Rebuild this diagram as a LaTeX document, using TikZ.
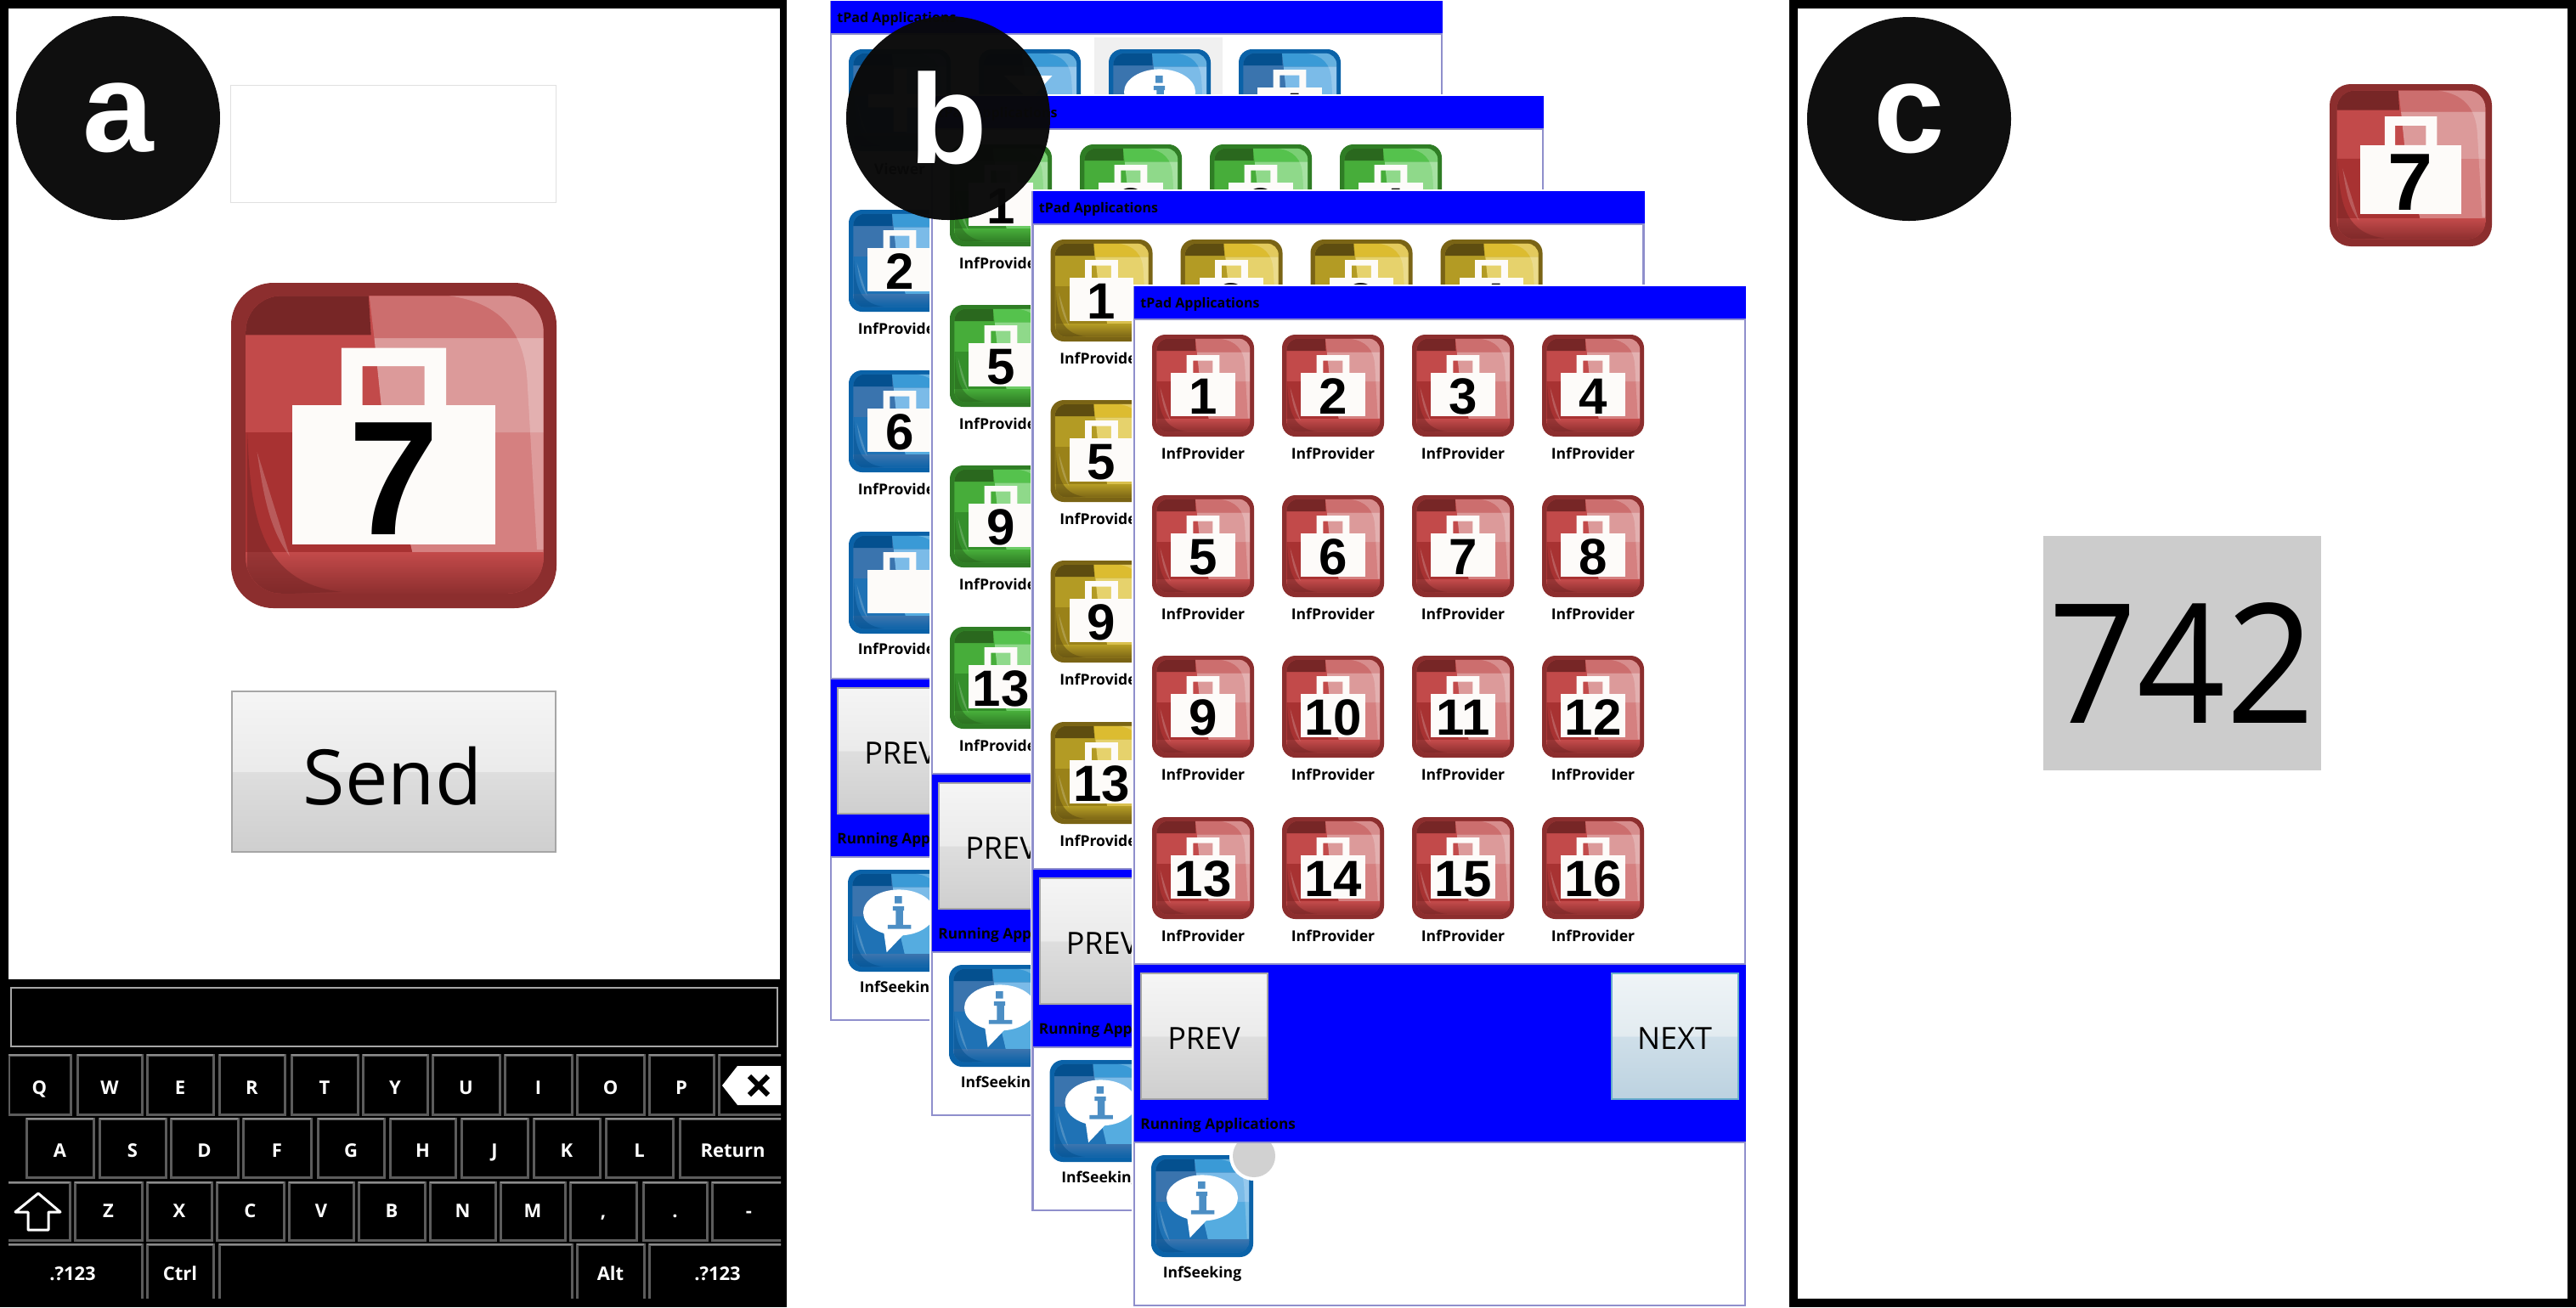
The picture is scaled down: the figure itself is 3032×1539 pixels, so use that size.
\documentclass[tikz,border=0pt]{standalone}
\usepackage{fontspec}
\setmainfont{Open Sans}
\newfontfamily\numfont{Liberation Sans}
\usetikzlibrary{positioning}
\definecolor{redB}{HTML}{8C2E2E}\definecolor{redD}{HTML}{772626}\definecolor{redM}{HTML}{C24A4A}\definecolor{redN}{HTML}{A83232}
\definecolor{redT}{HTML}{CC6E6E}\definecolor{redL}{HTML}{DC9A9A}\definecolor{redR}{HTML}{D58080}
\definecolor{bluB}{HTML}{0A62A8}\definecolor{bluD}{HTML}{04508F}\definecolor{bluM}{HTML}{3A74AE}\definecolor{bluN}{HTML}{1F72B5}
\definecolor{bluT}{HTML}{3A9AD6}\definecolor{bluL}{HTML}{7BBBE8}\definecolor{bluR}{HTML}{55ACE0}
\definecolor{grnB}{HTML}{2F7D25}\definecolor{grnD}{HTML}{2A681E}\definecolor{grnM}{HTML}{47AD3A}\definecolor{grnN}{HTML}{348F2B}
\definecolor{grnT}{HTML}{55C24D}\definecolor{grnL}{HTML}{8FD98A}\definecolor{grnR}{HTML}{6CCB65}
\definecolor{ylwB}{HTML}{7A6415}\definecolor{ylwD}{HTML}{5E4D10}\definecolor{ylwM}{HTML}{B39B24}\definecolor{ylwN}{HTML}{9A8219}
\definecolor{ylwT}{HTML}{DCBC30}\definecolor{ylwL}{HTML}{E6D26C}\definecolor{ylwR}{HTML}{D9C04E}
\definecolor{winblue}{RGB}{0,0,255}
\definecolor{winline}{HTML}{8F8FCC}
\definecolor{bagwhite}{HTML}{FDFBF9}
\definecolor{keyline}{HTML}{5C5C5C}
\definecolor{badgeblack}{HTML}{0A0A0A}
\pgfdeclareverticalshading{btnshade}{100bp}{color(0bp)=(black!19); color(25bp)=(black!19); color(50bp)=(black!13); color(50.01bp)=(black!8); color(75bp)=(black!4); color(100bp)=(black!4)}
\definecolor{nextlow}{HTML}{BCD2E0}\definecolor{nextmid}{HTML}{CFDFE9}\definecolor{nexttop}{HTML}{EFF4F7}\definecolor{nextup}{HTML}{E2EBF0}
\pgfdeclareverticalshading{nextshade}{100bp}{color(0bp)=(nextlow); color(25bp)=(nextlow); color(50bp)=(nextmid); color(50.01bp)=(nextup); color(75bp)=(nexttop); color(100bp)=(nexttop)}
\newcommand{\appicon}[5]{%
  \begin{scope}[shift={(#1,#2)},scale=#3/100,transform shape]
    \fill[#4B,rounded corners=#3*.065pt] (0,0) rectangle (100,100);
    \begin{scope}
      \clip[rounded corners=#3*.055pt] (4.5,4) rectangle (96,95.5);
      \fill[#4M] (0,0) rectangle (100,100);
      \fill[#4N] (0,46) -- (47,46) -- (56,84) -- (0,84) -- cycle;
      \fill[#4R] (47,46) -- (100,46) -- (100,84) -- (56,84) -- cycle;
      \fill[#4L] (44,17) -- (100,17) -- (100,46) -- (47,46) -- cycle;
      \fill[#4T] (42,0) -- (100,0) -- (100,17) -- (44,17) -- cycle;
      \fill[#4D] (0,0) -- (42,0) -- (43,16) -- (0,16) -- cycle;
      \shade[top color=#4M,bottom color=#4B] (0,83) rectangle (100,96);
      \fill[white,fill opacity=.22] (67,4) .. controls (82,6) and (90,14) .. (91,30) -- (94,82) -- (97,82) -- (97,4) -- cycle;
      \fill[white,fill opacity=.2] (8,52) -- (18,84) .. controls (12,76) and (10,66) .. (8,52) -- cycle;
      \fill[#4D,fill opacity=.55] (5,46) .. controls (6,70) and (8,92) .. (34,95) -- (5,96) -- cycle;
    \end{scope}
    #5
  \end{scope}}
\newcommand{\bagmark}[1]{%
  \fill[bagwhite] (18.7,37.6) rectangle (81.3,80.3);
  \fill[bagwhite,even odd rule] (33.9,20) rectangle (66.1,38) (40.4,25.6) rectangle (59.4,37.6);
  \node[numtext] (num#1) at (50,77.5) {#1};}
\newcommand{\bubblemark}{%
  \fill[white] (50,42) ellipse [x radius=35,y radius=22.5];
  \fill[white] (35,60) -- (38,81) -- (58,60) -- cycle;
  \fill[bluN!80!white] (46,26) rectangle (53,33) (44,36) rectangle (55,40) (47,36) rectangle (54,56) (39,54) rectangle (62,58);}
\newcommand{\appframe}{%
  \fill[white] (-3,-3) rectangle (722,1202);
  \draw[winedge] (0,0) rectangle (719,1199);
  \fill[winblue] (0,-1) rectangle (720,37);
  \fill[winblue] (0,798) rectangle (720,1006);
  \draw[winedge] (0,38) -- (719,38) (0,797) -- (719,797) (0,1007) -- (719,1007);
  \node[bandtext] (ttl) at (7,20) {tPad Applications};
  \node[bandtext,font=\fontsize{8.6}{10}\selectfont\bfseries] (run) at (7,987) {Running Applications};
  \draw[btnbox] (8,808) rectangle (157,956);
  \node[btntext] (prev) at (82,885) {PREV};
  \appicon{20}{1022}{120}{blu}{\bubblemark}
  \node[applabel] (seek) at (80,1162) {InfSeeking};}
\newcommand{\backicons}[1]{%
  \foreach \ry [count=\rr from 0] in {56,245,434,624}{%
    \pgfmathtruncatemacro{\num}{\rr*4+1}
    \appicon{21}{\ry}{120}{#1}{\bagmark{\num}}
    \node[applabel] (lab\num) at (81,\ry+140) {InfProvider};}
  \foreach \cx/\num in {174/2,327/3,480/4}{\appicon{\cx}{56}{120}{#1}{\bagmark{\num}}}}
\begin{document}
\begin{tikzpicture}[x=.5pt,y=-.5pt,
  panel/.style={fill=black},
  screen/.style={fill=white},
  winedge/.style={draw=winline,line width=1.25pt},
  bandtext/.style={anchor=west,inner sep=0pt,font=\fontsize{8}{10}\selectfont\bfseries,text=black},
  applabel/.style={inner sep=0pt,font=\fontsize{8.8}{10}\selectfont\bfseries,text=black},
  btnbox/.style={draw=black!35,line width=1pt,shade,shading=btnshade},
  btntext/.style={inner sep=0pt,font=\fontsize{18}{20}\selectfont,text=black},
  numtext/.style={anchor=base,inner sep=0pt,font=\numfont\bfseries\fontsize{25}{26}\selectfont,text=black},
  badge/.style={circle,minimum size=120pt,inner sep=0pt,fill=badgeblack,fill opacity=.975,text opacity=1,text=white,font=\numfont\bfseries\fontsize{75}{75}\selectfont},
  keycap/.style={draw=keyline,line width=1.5pt,fill=black},
  keytop/.style={draw=black!45,line width=.8pt},
  keytext/.style={inner sep=0pt,text height=8pt,text depth=0pt,font=\fontsize{11}{13}\selectfont\bfseries,text=white}]
  \useasboundingbox (0,0) rectangle (3032,1539);
  \fill[white] (0,0) rectangle (3032,1539);

  \fill[panel] (0,0) rectangle (926,1539);
  \fill[screen] (10,10) rectangle (918,1153);
  \draw[draw=black!12,line width=.5pt] (271,100) rectangle (654,238);
  \appicon{272}{333}{383}{red}{\bagmark{7}}
  \draw[btnbox,line width=1.2pt] (273,814) rectangle (654,1003);
  \node[anchor=base,inner sep=0pt,font=\fontsize{45}{50}\selectfont,text=black] (send) at (462,947) {Send};
  \draw[draw=black!35,line width=1.2pt] (13,1163) rectangle (915,1232);
  \begin{scope}
    \clip (10,1236) rectangle (919,1528);
    \foreach \xa/\xb/\lbl in {10/83/Q,91/167/W,173/251/E,258/335/R,343/421/T,427/503/Y,509/588/U,594/673/I,679/758/O,764/840/P,846/925/{}}{%
      \draw[keycap] (\xa,1242) rectangle (\xb,1312);
      \draw[keytop] (\xa,1242) -- (\xb,1242);
      \node[keytext] (key\xa) at ({(\xa+\xb)/2},1280) {\lbl};}
    \foreach \xa/\xb/\lbl in {31/110/A,117/195/S,201/280/D,286/366/F,374/452/G,459/536/H,543/621/J,628/706/K,713/792/L,800/925/Return}{%
      \draw[keycap] (\xa,1317) rectangle (\xb,1386);
      \draw[keytop] (\xa,1317) -- (\xb,1317);
      \node[keytext] (key\xa) at ({(\xa+\xb)/2},1354) {\lbl};}
    \foreach \xa/\xb/\lbl in {4/82/{},88/167/Z,173/249/X,255/334/C,340/416/V,422/500/B,506/583/N,589/665/M,671/749/{,},757/832/.,838/925/-}{%
      \draw[keycap] (\xa,1392) rectangle (\xb,1460);
      \draw[keytop] (\xa,1392) -- (\xb,1392);
      \node[keytext] (key\xa) at ({(\xa+\xb)/2},1425) {\lbl};}
    \foreach \xa/\xb/\lbl in {4/167/.?123,173/251/Ctrl,258/673/{},679/758/Alt,764/925/.?123}{%
      \draw[keycap] (\xa,1465) rectangle (\xb,1540);
      \draw[keytop] (\xa,1465) -- (\xb,1465);
      \node[keytext] (key\xa) at ({(\xa+\xb)/2},1499) {\lbl};}
  \end{scope}
  \fill[white] (850,1278) -- (868,1255) -- (919,1255) -- (919,1301) -- (868,1301) -- cycle;
  \draw[black,line width=3pt] (882,1267) -- (904,1289) (904,1267) -- (882,1289);
  \draw[white,line width=1.5pt,line join=round] (45,1405) -- (71,1427) -- (57,1427) -- (57,1448) -- (33,1448) -- (33,1427) -- (18,1427) -- cycle;

  \begin{scope}[shift={(978,2)}]
    \appframe
    \appicon{21}{56}{120}{blu}{\fill[white] (19,44) rectangle (81,57) (44,19) rectangle (57,81);}
    \fill[black!6] (310,42) rectangle (461,110);
    \appicon{174}{56}{120}{blu}{\fill[white] (25,26) -- (72,26) -- (50,50) -- cycle;}
    \appicon{327}{56}{120}{blu}{\bubblemark}
    \appicon{480}{56}{120}{blu}{\bagmark{4}}
    \node[applabel] (view) at (81,197) {Viewer};
    \appicon{21}{245}{120}{blu}{\bagmark{2}}
    \node[applabel] (lab2) at (81,385) {InfProvider};
    \appicon{21}{434}{120}{blu}{\bagmark{6}}
    \node[applabel] (lab6) at (81,574) {InfProvider};
    \appicon{21}{624}{120}{blu}{\bagmark{}}
    \node[applabel] (lab10) at (81,762) {InfProvider};
  \end{scope}
  \begin{scope}[shift={(1097,114)}]
    \appframe
    \backicons{grn}
  \end{scope}
  \begin{scope}[shift={(1215.5,226)}]
    \appframe
    \backicons{ylw}
  \end{scope}
  \begin{scope}[shift={(1335,338)}]
    \appframe
    \draw[draw=cyan!70!black!70,line width=1pt,shade,shading=nextshade] (562,808) rectangle (711,956);
    \node[btntext] (next) at (636,885) {NEXT};
    \begin{scope}
      \clip (100,1008) rectangle (200,1100);
      \fill[white] (141,1023) circle (29);
      \fill[black!18] (141,1023) circle (25);
    \end{scope}
    \foreach \ry [count=\rr from 0] in {56,245,434,624}{%
      \foreach \cx [count=\cc from 1] in {21,174,327,480}{%
        \pgfmathtruncatemacro{\num}{\rr*4+\cc}
        \appicon{\cx}{\ry}{120}{red}{\bagmark{\num}}
        \node[applabel] (lab\num) at (\cx+60,\ry+140) {InfProvider};}}
  \end{scope}

  \fill[panel] (2106,0) rectangle (3032,1539);
  \fill[screen] (2116,10) rectangle (3022,1529);
  \appicon{2742}{99}{191}{red}{\bagmark{7}}
  \fill[black!20] (2405,631) rectangle (2732,907);
  \node[anchor=base,inner sep=0pt,xscale=.93,font=\fontsize{98}{110}\selectfont,text=black] (val) at (2568,851) {742};

  \node[badge] (a) at (139,139) {\raisebox{-2pt}{a}};
  \node[badge] (b) at (1116,139) {b};
  \node[badge] (c) at (2247,140) {\raisebox{-1pt}{c}};
\end{tikzpicture}
\end{document}
